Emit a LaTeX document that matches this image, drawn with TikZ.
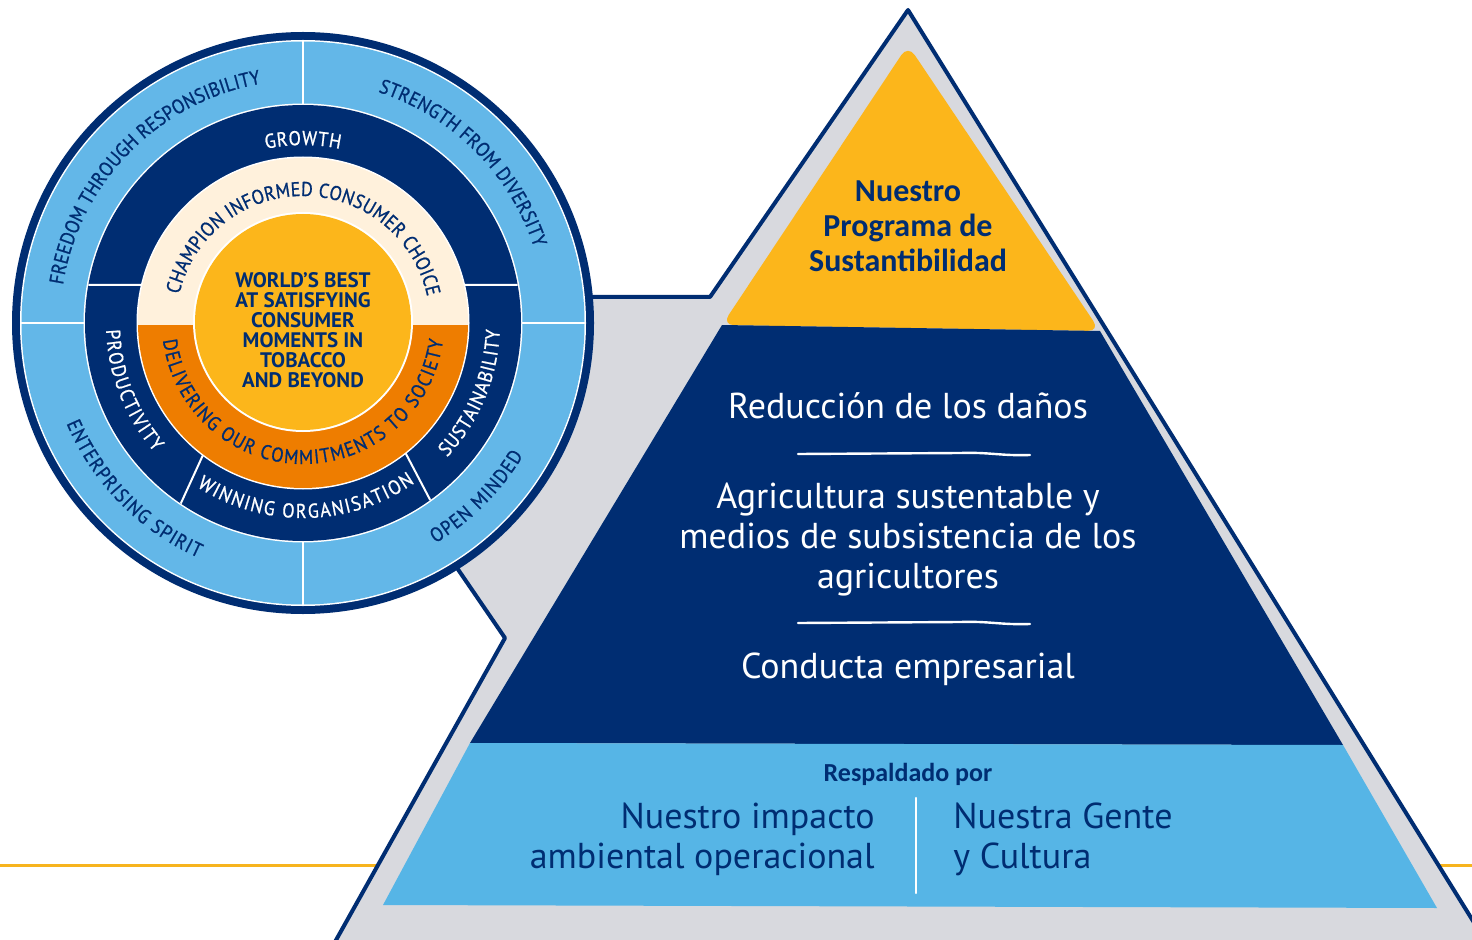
\documentclass[tikz,border=0pt]{standalone}
\usepackage{fontspec}
\setmainfont{PT Sans}
\newfontfamily\carl{Carlito}
\newfontfamily\cfont[FakeStretch=0.9, FakeBold=0.9]{PT Sans}
\usetikzlibrary{decorations.text}
\definecolor{navy}{RGB}{0,45,114}
\definecolor{lblue}{RGB}{99,183,232}
\definecolor{pblue}{RGB}{86,181,230}
\definecolor{yel}{RGB}{252,182,27}
\definecolor{orng}{RGB}{238,125,0}
\definecolor{cream}{RGB}{255,241,220}
\definecolor{pgray}{RGB}{216,217,222}
\definecolor{lineyel}{RGB}{247,180,30}
\newcommand\ftA{\cfont\fontsize{10}{11}\selectfont\color{navy}}
\newcommand\ftB{\cfont\fontsize{10}{11}\selectfont\color{white}}
\newcommand\ftC{\cfont\fontsize{10}{11}\selectfont\color{navy}}
\begin{document}
\begin{tikzpicture}[x=0.5pt,y=0.5pt,
  wtext/.style={text=white, font=\fontsize{18}{20}\selectfont, inner sep=0pt},
  btext/.style={text=navy, font=\fontsize{18}{20}\selectfont, inner sep=0pt},
  sepline/.style={white, line width=1.2pt, line cap=round},
  ringsep/.style={white, line width=1pt}]
\useasboundingbox (0,0) rectangle (1472,939);
\clip (0,0) rectangle (1472,939);
\fill[white] (0,0) rectangle (1472,939);
\coordinate (yl) at (0,74);
\coordinate (yr) at (1472,74);
\draw[lineyel, line width=1.5pt] (yl) -- (yr);
% ---------- pyramid (image coordinates, y down)
\begin{scope}[shift={(0,939)}, yscale=-1]
  \filldraw[fill=pgray, draw=navy, line width=2pt, line join=round]
    (560,297) -- (710,297) -- (908,10) -- (1496,958) -- (326,958) -- (505,638) -- (442,546) -- cycle;
  \fill[yel, rounded corners=6pt] (908,45) -- (1100,331) -- (722,325) -- cycle;
  \fill[navy] (722,325) -- (1100,331) -- (1343,745) -- (470,743) -- cycle;
  \fill[pblue] (470,743) -- (1343,745) -- (1437,908) -- (383,905) -- cycle;
  \coordinate (s1a) at (798,454); \coordinate (s1b) at (1030,455);
  \coordinate (s2a) at (798,623); \coordinate (s2b) at (1030,624);
  \draw[sepline] (s1a) -- (960,453) .. controls (990,452) and (1000,456) .. (s1b);
  \draw[sepline] (s2a) -- (960,622) .. controls (990,621) and (1000,625) .. (s2b);
  \coordinate (va) at (916,798); \coordinate (vb) at (916,893);
  \draw[sepline] (va) -- (vb);
  \node[font=\carl\bfseries\fontsize{16}{17.5}\selectfont, text=navy, align=center] (prog) at (908,226) {Nuestro\\Programa de\\Sustantibilidad};
  \node[wtext, anchor=base] (red) at (908,418) {Reducción de los daños};
  \node[wtext, anchor=base] (ag1) at (908,508) {Agricultura sustentable y};
  \node[wtext, anchor=base] (ag2) at (908,548) {medios de subsistencia de los};
  \node[wtext, anchor=base] (ag3) at (908,588) {agricultores};
  \node[wtext, anchor=base] (cond) at (908,678) {Conducta empresarial};
  \node[font=\carl\bfseries\fontsize{13}{14}\selectfont, text=navy, anchor=base, inner sep=0pt] (resp) at (908,781) {Respaldado por};
  \node[btext, anchor=base east] (im1) at (875,828) {Nuestro impacto};
  \node[btext, anchor=base east] (im2) at (875,868) {ambiental operacional};
  \node[btext, anchor=base west] (ge1) at (953,828) {Nuestra Gente};
  \node[btext, anchor=base west] (ge2) at (953,868) {y Cultura};
\end{scope}
% ---------- circle
\begin{scope}[shift={(303,616)}]
  \fill[navy] (0,0) circle (291);
  \fill[white] (0,0) circle (283);
  \fill[lblue] (0,0) circle (281.5);
  \draw[ringsep] (0,218) -- (0,283) (0,-218) -- (0,-283) (-283,0) -- (-218,0) (218,0) -- (283,0);
  \fill[white] (0,0) circle (219.5);
  \fill[navy] (0,0) circle (218);
  \draw[ringsep] (-214.7,38) -- (-160.6,38) (160.6,38) -- (214.7,38)
    (232.8:165) -- (235.9:218) (308.3:165) -- (305.7:218);
  \fill[white] (0,0) circle (166.5);
  \begin{scope}
    \clip (-170,-2) rectangle (170,170);
    \fill[cream] (0,0) circle (165);
  \end{scope}
  \begin{scope}
    \clip (-170,-2) rectangle (170,-170);
    \fill[orng] (0,0) circle (165);
  \end{scope}
  \fill[white] (0,1) circle (110);
  \fill[yel] (0,1) circle (108);
  \node[font=\bfseries\fontsize{10.5}{10}\selectfont, text=navy, align=center] (core) at (0,-7)
    {WORLD’S BEST\\AT SATISFYING\\CONSUMER\\MOMENTS IN\\TOBACCO\\AND BEYOND};
  % outer ring texts
  \path[decorate, decoration={text along path, text align={fit to path}, text={|\ftA|FREEDOM THROUGH RESPONSIBILITY}}] (171:243) arc (171:100:243);
  \path[decorate, decoration={text along path, text align={fit to path}, text={|\ftA|STRENGTH FROM DIVERSITY}}] (72:243) arc (72:18:243);
  \path[decorate, decoration={text along path, text align={fit to path}, text={|\ftA|ENTERPRISING SPIRIT}}] (203:257) arc (203:246:257);
  \path[decorate, decoration={text along path, text align={fit to path}, text={|\ftA|OPEN MINDED}}] (301:257) arc (301:329:257);
  % navy ring texts
  \path[decorate, decoration={text along path, text align={fit to path}, text={|\ftB|GROWTH}}] (102:178) arc (102:78:178);
  \path[decorate, decoration={text along path, text align={fit to path}, text={|\ftB|PRODUCTIVITY}}] (182:197) arc (182:221:197);
  \path[decorate, decoration={text along path, text align={fit to path}, text={|\ftB|WINNING ORGANISATION}}] (237:195) arc (237:305:195);
  \path[decorate, decoration={text along path, text align={fit to path}, text={|\ftB|SUSTAINABILITY}}] (317:197) arc (317:358:197);
  % cream / orange texts
  \path[decorate, decoration={text along path, text align={fit to path}, text={|\ftC|CHAMPION INFORMED CONSUMER CHOICE}}] (167:127) arc (167:12:127);
  \path[decorate, decoration={text along path, text align={fit to path}, text={|\ftC|DELIVERING OUR COMMITMENTS TO SOCIETY}}] (187:141) arc (187:353:141);
\end{scope}
\end{tikzpicture}
\end{document}
